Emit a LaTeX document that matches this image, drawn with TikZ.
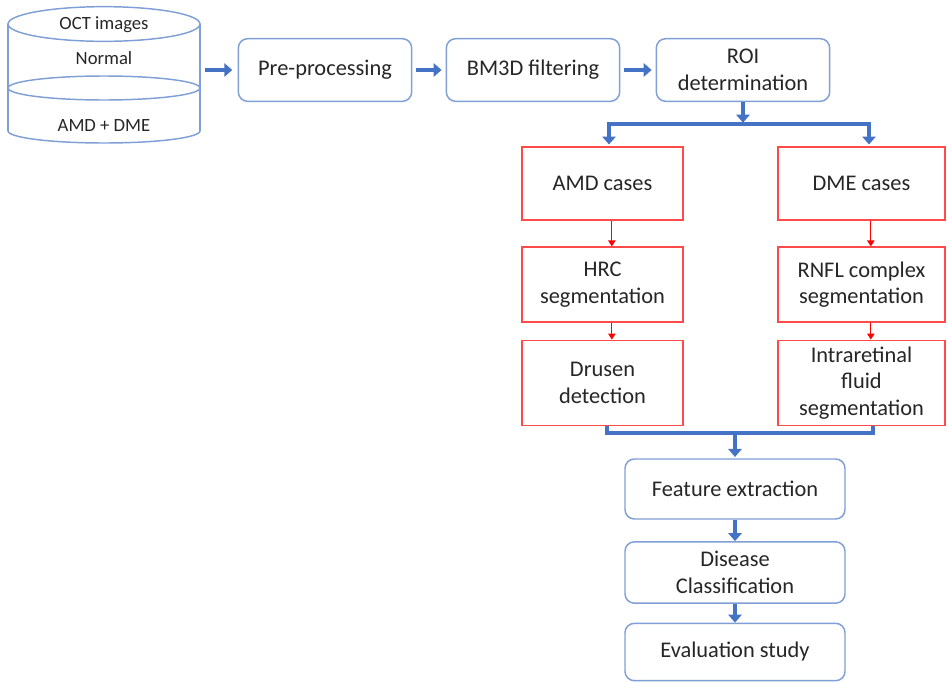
\documentclass[tikz,border=0pt]{standalone}
\usepackage{fontspec}
\setmainfont{Carlito}
\usetikzlibrary{arrows.meta}

\definecolor{boxblue}{HTML}{7F9FD6}
\definecolor{arrblue}{HTML}{4472C4}
\definecolor{boxred}{HTML}{FF4A4A}
\definecolor{txt}{HTML}{262626}

\tikzset{
  stage/.style={draw=boxblue, line width=1.1pt, rounded corners=7pt, fill=white,
    text=txt, align=center, font=\fontsize{16.8}{20}\selectfont, inner sep=2pt},
  casebox/.style={draw=boxred, line width=1.1pt, fill=white, text=txt, align=center,
    font=\fontsize{16.8}{20}\selectfont, inner sep=2pt},
  cyl/.style={draw=boxblue, line width=1.1pt},
  cyltext/.style={text=txt, font=\fontsize{14}{17}\selectfont, inner sep=1pt},
  bigarrow/.style={-{Triangle[width=10pt,length=6pt]}, draw=arrblue, fill=arrblue, line width=3.4pt},
  barline/.style={draw=arrblue, line width=3.4pt},
  redarrow/.style={-{Triangle[width=5.5pt,length=4.5pt]}, draw=red, fill=red, line width=0.9pt}
}

\begin{document}
\begin{tikzpicture}[x=0.75pt, y=-0.75pt]
\useasboundingbox (0,0) rectangle (947,682);

% database of OCT images
\draw[cyl] (8,24) -- (8,131);
\draw[cyl] (200,24) -- (200,131);
\draw[cyl] (104,24) ellipse [x radius=72pt, y radius=13pt];
\draw[cyl] (104,88) ellipse [x radius=72pt, y radius=9pt];
\draw[cyl] (8,131) arc [start angle=180, end angle=360, x radius=72pt, y radius=9pt];
\node[cyltext] (octlbl) at (104,25) {OCT images};
\node[cyltext] (normal) at (104,58) {Normal};
\node[cyltext] (amddme) at (104,126) {AMD + DME};
\node[minimum width=144pt, minimum height=100pt, inner sep=0pt] (octdb) at (104,70) {};

% top row
\node[stage, minimum width=130pt, minimum height=47pt] (pre) at (325,70) {Pre-processing};
\node[stage, minimum width=130pt, minimum height=47pt] (bm3d) at (533,70) {BM3D filtering};
\node[stage, minimum width=130pt, minimum height=47pt] (roi) at (743,70) {ROI\\determination};

\draw[bigarrow, shorten <=3.5pt, shorten >=4pt] (octdb.east) -- (pre.west);
\draw[bigarrow, shorten <=2.5pt, shorten >=3pt] (pre.east) -- (bm3d.west);
\draw[bigarrow, shorten <=2.5pt, shorten >=3pt] (bm3d.east) -- (roi.west);

% AMD branch
\node[casebox, minimum width=121pt, minimum height=55pt] (amd) at (602.5,183.5) {AMD cases};
\node[casebox, minimum width=121pt, minimum height=56pt] (hrc) at (602.5,284.5) {HRC\\segmentation};
\node[casebox, minimum width=121pt, minimum height=64pt] (drusen) at (602.5,383) {Drusen\\detection};

% DME branch
\node[casebox, minimum width=125pt, minimum height=55pt] (dme) at (861.5,183.5) {DME cases};
\node[casebox, minimum width=125pt, minimum height=56pt] (rnfl) at (861.5,284.5) {RNFL complex\\segmentation};
\node[casebox, minimum width=125pt, minimum height=64pt] (fluid) at (861.5,383) {Intraretinal\\fluid\\segmentation};

% split after ROI
\coordinate (splitL) at (609,124);
\coordinate (splitR) at (869,124);
\draw[bigarrow, shorten >=1pt] (roi.south) -- (roi.south |- splitL);
\draw[barline] (splitL) -- (splitR);
\draw[bigarrow, shorten >=1.2pt] ([yshift=1.2pt]splitL) -- (splitL |- amd.north);
\draw[bigarrow, shorten >=1.2pt] ([yshift=1.2pt]splitR) -- (splitR |- dme.north);

\draw[redarrow] ([xshift=7pt]amd.south) -- ([xshift=7pt]hrc.north);
\draw[redarrow] ([xshift=7pt]hrc.south) -- ([xshift=7pt]drusen.north);
\draw[redarrow] ([xshift=7pt]dme.south) -- ([xshift=7pt]rnfl.north);
\draw[redarrow] ([xshift=7pt]rnfl.south) -- ([xshift=7pt]fluid.north);

% final stages
\node[stage, minimum width=165pt, minimum height=45pt] (feat) at (735,489) {Feature extraction};
\node[stage, minimum width=165pt, minimum height=46pt] (disease) at (735,572.5) {Disease\\Classification};
\node[stage, minimum width=165pt, minimum height=43pt] (evalst) at (735,652) {Evaluation study};

\coordinate (merge) at (735,433);
\draw[barline] ([xshift=3.5pt]drusen.south) |- (merge) -| ([xshift=8.5pt]fluid.south);
\draw[bigarrow, shorten >=1pt] ([yshift=1.2pt]merge) -- (feat.north);
\draw[bigarrow] (feat.south) -- (disease.north);
\draw[bigarrow] (disease.south) -- (evalst.north);
\end{tikzpicture}
\end{document}
